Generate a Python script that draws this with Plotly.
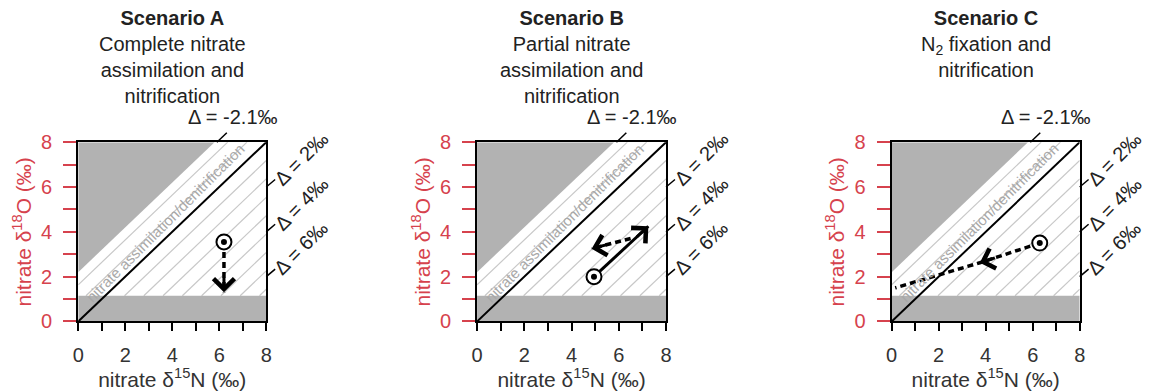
import plotly.graph_objects as go

# ---------------- data ----------------
panel_keys = ["A", "B", "C"]
panel_titles = [
    "<b>Scenario A</b><br>Complete nitrate<br>assimilation and<br>nitrification",
    "<b>Scenario B</b><br>Partial nitrate<br>assimilation and<br>nitrification",
    "<b>Scenario C</b><br>N<sub>2</sub> fixation and<br>nitrification",
]
major_ticks = [0, 2, 4, 6, 8]

one_to_one_x = [0, 8]
one_to_one_y = [0, 8]
grey_triangle_x = [0, 0, 5.8]
grey_triangle_y = [2.2, 8, 8]
bottom_band_x = [0, 8, 8, 0]
bottom_band_y = [0, 0, 1.15, 1.15]
band_top = 1.15
hatch_offsets = [1.64, 0.82, -0.82, -1.64, -2.46, -3.28, -4.1, -4.92, -5.74, -6.56]
delta_values = [-2.1, 2, 4, 6]
delta_labels = ["Δ = -2.1‰", "Δ = 2‰", "Δ = 4‰", "Δ = 6‰"]

start_x = [6.2, 4.95, 6.3]
start_y = [3.55, 2.0, 3.5]
dashed_x = [[6.2, 6.2], [6.5, 4.85], [6.3, 3.75, 0.15]]
dashed_y = [[3.55, 1.3], [3.7, 3.25], [3.5, 2.62, 1.5]]
dashed_head = [(6.2, 1.3, 6.2, 3.55), (4.85, 3.25, 6.5, 3.7), (3.75, 2.62, 6.3, 3.5)]
solid_x = [None, [4.95, 7.25], None]
solid_y = [None, [2.0, 4.25], None]

# ---------------- layout geometry ----------------
W, H = 1152, 391
x_domains = [(73 / W, 263 / W), (476 / W, 667 / W), (895 / W, 1085 / W)]
y_domain = ((H - 329) / H, (H - 139) / H)
RED = "#d6424d"
GREY = "#b2b2b2"
HATCH = "#c8c8c8"
FONT = "Liberation Sans, Arial, sans-serif"


def to_paper(i, xv, yv, dx_px=0, dy_px=0):
    x0, x1 = x_domains[i]
    y0, y1 = y_domain
    return (x0 + xv / 8 * (x1 - x0) + dx_px / W,
            y0 + yv / 8 * (y1 - y0) + dy_px / H)


fig = go.Figure()
annotations = []
shapes = []
layout_axes = {}


def head_annotation(xa, ya, hx, hy, tx, ty):
    ln = ((hx - tx) ** 2 + (hy - ty) ** 2) ** 0.5
    return dict(x=hx, y=hy, ax=hx - (hx - tx) / ln * 0.7, ay=hy - (hy - ty) / ln * 0.7,
                xref=xa, yref=ya, axref=xa, ayref=ya, showarrow=True, text=" ",
                font=dict(size=1), borderpad=0,
                arrowhead=4, arrowwidth=3, arrowsize=1.35, arrowcolor="black", standoff=0,
                arrowside="end")


for i, key in enumerate(panel_keys):
    sfx = "" if i == 0 else str(i + 1)
    xa, ya = "x" + sfx, "y" + sfx

    common = dict(hoverinfo="skip", showlegend=False, xaxis=xa, yaxis=ya)
    fig.add_trace(go.Scatter(x=grey_triangle_x, y=grey_triangle_y, fill="toself",
                             fillcolor=GREY, mode="lines", line=dict(width=0), **common))
    for c in hatch_offsets:
        xs = max(0, band_top - c)
        xe = min(8, 8 - c)
        if xe > xs:
            fig.add_trace(go.Scatter(x=[xs, xe], y=[xs + c, xe + c], mode="lines",
                                     line=dict(color=HATCH, width=1.2), **common))
    fig.add_trace(go.Scatter(x=bottom_band_x, y=bottom_band_y, fill="toself",
                             fillcolor=GREY, mode="lines", line=dict(width=0), **common))
    fig.add_trace(go.Scatter(x=one_to_one_x, y=one_to_one_y, mode="lines",
                             line=dict(color="black", width=2), **common))
    fig.add_trace(go.Scatter(x=dashed_x[i], y=dashed_y[i], mode="lines",
                             line=dict(color="black", width=3.5, dash="6px,4px"), **common))
    if solid_x[i] is not None:
        fig.add_trace(go.Scatter(x=solid_x[i], y=solid_y[i], mode="lines",
                                 line=dict(color="black", width=3), **common))
    fig.add_trace(go.Scatter(x=[start_x[i]], y=[start_y[i]], mode="markers",
                             marker=dict(size=15, color="white", line=dict(color="black", width=2)),
                             **common))
    fig.add_trace(go.Scatter(x=[start_x[i]], y=[start_y[i]], mode="markers",
                             marker=dict(size=6, color="black"), **common))

    # arrow heads (annotation arrows in data coordinates)
    hx, hy, tx, ty = dashed_head[i]
    annotations.append(head_annotation(xa, ya, hx, hy, tx, ty))
    if solid_x[i] is not None:
        annotations.append(head_annotation(xa, ya, solid_x[i][1], solid_y[i][1],
                                           solid_x[i][0], solid_y[i][0]))

    # 1:1 line label
    annotations.append(dict(x=3.72, y=4.4, xref=xa, yref=ya, text="nitrate assimilation/denitrification",
                            showarrow=False, textangle=-45, font=dict(family=FONT, size=15, color="#a8a8a8")))

    # titles
    cx = (x_domains[i][0] + x_domains[i][1]) / 2
    annotations.append(dict(x=cx, y=1 + 6 / H, xref="paper", yref="paper", text=panel_titles[i],
                            showarrow=False, xanchor="center", yanchor="top",
                            font=dict(family=FONT, size=20, color="#222222")))

    # delta leaders and labels
    for d, lab in zip(delta_values, delta_labels):
        if d < 0:
            px0, py0 = to_paper(i, 8 + d, 8)
            px1, py1 = to_paper(i, 8 + d, 8, 10, 10)
            lx, ly = to_paper(i, 8 + d, 8, 16, 27)
            ang = 0
        else:
            px0, py0 = to_paper(i, 8, 8 - d)
            px1, py1 = to_paper(i, 8, 8 - d, 9, 8)
            lx, ly = to_paper(i, 8, 8 - d, 35, 30)
            ang = -45
        shapes.append(dict(type="line", xref="paper", yref="paper", x0=px0, y0=py0, x1=px1, y1=py1,
                           line=dict(color="black", width=1.5)))
        annotations.append(dict(x=lx, y=ly, xref="paper", yref="paper", text=lab, showarrow=False,
                                textangle=ang, xanchor="center", yanchor="middle",
                                font=dict(family=FONT, size=20, color="#222222")))

    layout_axes["xaxis" + sfx] = dict(
        domain=list(x_domains[i]), anchor=ya, range=[0, 8], tickvals=major_ticks,
        ticks="outside", ticklen=8, tickwidth=2, tickcolor="black", showline=True, linecolor="black",
        minor=dict(dtick=1, ticks="outside", ticklen=8, tickwidth=2, tickcolor="black", showgrid=False),
        linewidth=2, mirror=True, showgrid=False, zeroline=False, ticklabelstandoff=7,
        tickfont=dict(family=FONT, size=20, color="#333333"),
        title=dict(text="nitrate δ<sup>15</sup>N (‰)", standoff=1,
                   font=dict(family=FONT, size=21, color="#333333")))
    layout_axes["yaxis" + sfx] = dict(
        domain=list(y_domain), anchor=xa, range=[0, 8], tickvals=major_ticks,
        ticks="outside", ticklen=13, tickwidth=2, tickcolor=RED, showline=True, linecolor="black",
        minor=dict(dtick=1, ticks="outside", ticklen=13, tickwidth=2, tickcolor=RED, showgrid=False),
        linewidth=2, mirror=True, showgrid=False, zeroline=False, ticklabelstandoff=7,
        tickfont=dict(family=FONT, size=20, color=RED),
        title=dict(text="nitrate δ<sup>18</sup>O (‰)", standoff=4,
                   font=dict(family=FONT, size=21, color=RED)))

fig.update_layout(width=W, height=H, autosize=False, margin=dict(l=0, r=0, t=0, b=0),
                  plot_bgcolor="white", paper_bgcolor="white", annotations=annotations,
                  shapes=shapes, showlegend=False, **layout_axes)
fig.write_html("out.html")
